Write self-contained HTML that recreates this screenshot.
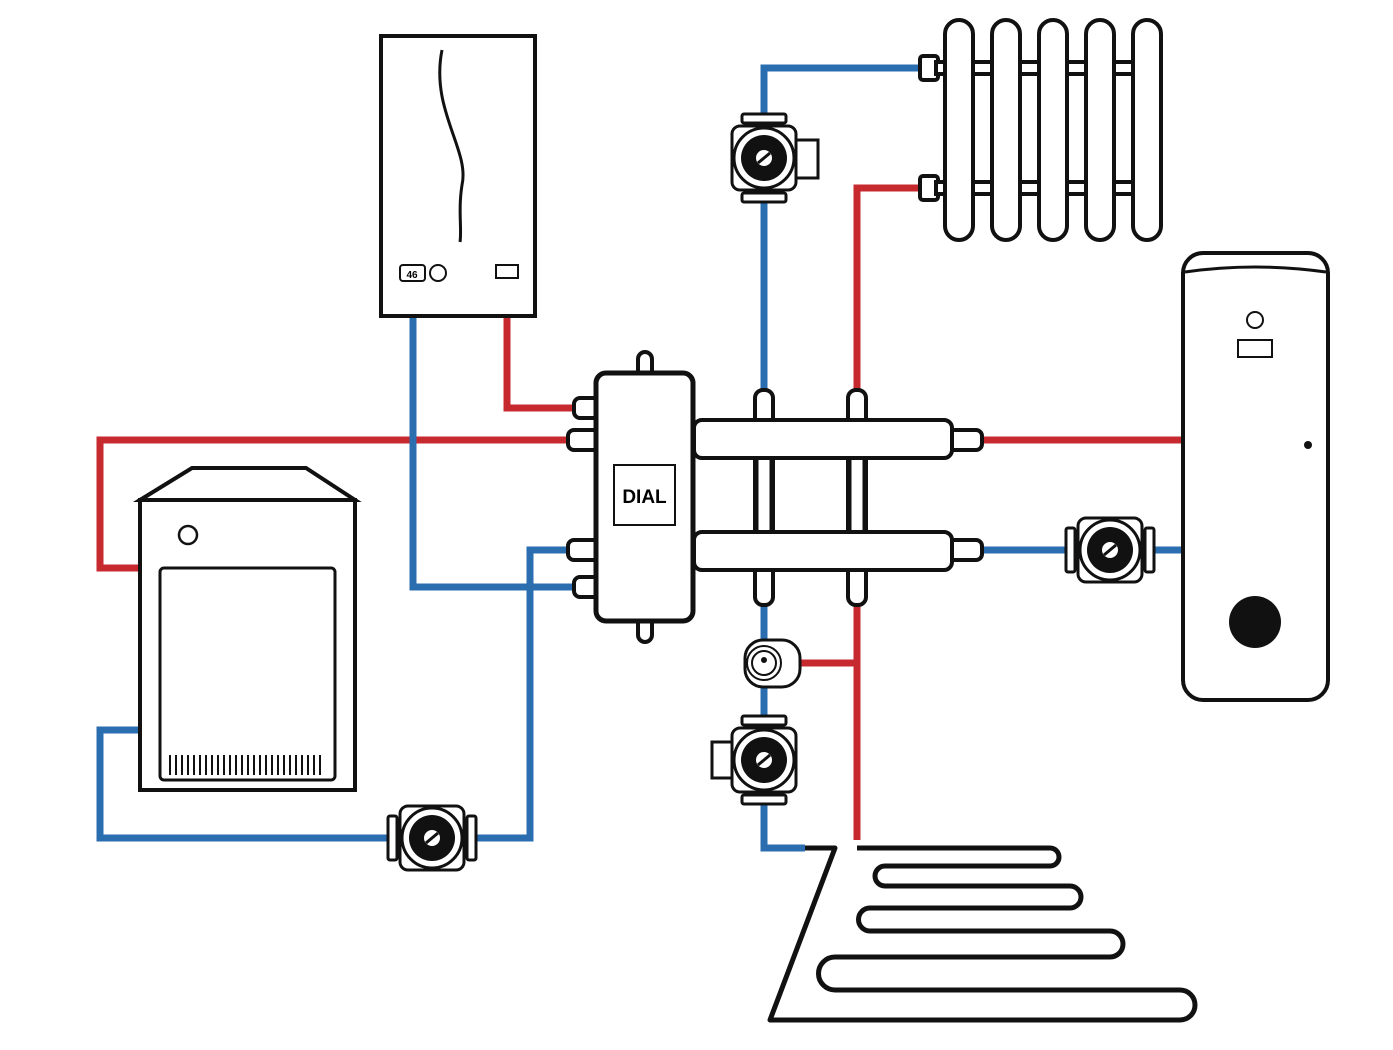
<!DOCTYPE html><html><head><style>body{margin:0;background:#fff}</style></head><body>
<svg width="1393" height="1045" viewBox="0 0 1393 1045" xmlns="http://www.w3.org/2000/svg" font-family="Liberation Sans, sans-serif">
<defs>
<g id="pv">
 <rect x="-22" y="-44" width="44" height="9" rx="2" fill="#fff" stroke="#111" stroke-width="3"/>
 <rect x="-22" y="35" width="44" height="9" rx="2" fill="#fff" stroke="#111" stroke-width="3"/>
 <rect x="-32" y="-32" width="64" height="64" rx="8" fill="#fff" stroke="#111" stroke-width="3"/>
 <circle r="30" fill="#fff" stroke="#111" stroke-width="3"/>
 <circle r="23" fill="#111"/>
 <circle r="8" fill="#fff"/><line x1="-6" y1="5" x2="6" y2="-5" stroke="#111" stroke-width="3"/>
</g>
<g id="ph">
 <rect x="-44" y="-22" width="9" height="44" rx="2" fill="#fff" stroke="#111" stroke-width="3"/>
 <rect x="35" y="-22" width="9" height="44" rx="2" fill="#fff" stroke="#111" stroke-width="3"/>
 <rect x="-32" y="-32" width="64" height="64" rx="8" fill="#fff" stroke="#111" stroke-width="3"/>
 <circle r="30" fill="#fff" stroke="#111" stroke-width="3"/>
 <circle r="23" fill="#111"/>
 <circle r="8" fill="#fff"/><line x1="-6" y1="5" x2="6" y2="-5" stroke="#111" stroke-width="3"/>
</g>
</defs>
<g fill="none" stroke-width="7">
<!-- red pipes -->
<g stroke="#c62a2f">
 <polyline points="507,316 507,408 585,408"/>
 <polyline points="140,568 100,568 100,440 585,440"/>
 <polyline points="857,390 857,188 920,188"/>
 <line x1="983" y1="440" x2="1183" y2="440"/>
 <polyline points="857,600 857,840"/>
 <line x1="800" y1="663" x2="857" y2="663"/>
</g>
<g stroke="#2a6eb0">
 <polyline points="413,316 413,587 585,587"/>
 <polyline points="140,730 100,730 100,838 530,838 530,550 585,550"/>
 <polyline points="764,390 764,68 920,68"/>
 <line x1="983" y1="550" x2="1183" y2="550"/>
 <polyline points="764,600 764,848 805,848"/>
</g>
</g>
<!-- wall boiler -->
<rect x="381" y="36" width="154" height="280" fill="#fff" stroke="#111" stroke-width="4"/>
<path d="M442 50 C430 110 470 150 462 185 C458 210 462 230 460 242" fill="none" stroke="#111" stroke-width="3"/>
<rect x="400" y="265" width="25" height="16" rx="3" fill="#fff" stroke="#111" stroke-width="2"/>
<text x="412" y="278" font-size="10" text-anchor="middle" font-weight="bold">46</text>
<circle cx="438" cy="273" r="8" fill="#fff" stroke="#111" stroke-width="2"/>
<rect x="496" y="265" width="22" height="13" fill="#fff" stroke="#111" stroke-width="2"/>
<!-- floor boiler -->
<polygon points="140,500 192,468 306,468 355,500" fill="#fff" stroke="#111" stroke-width="4"/>
<rect x="140" y="500" width="215" height="290" fill="#fff" stroke="#111" stroke-width="4"/>
<rect x="160" y="568" width="175" height="212" rx="4" fill="#fff" stroke="#111" stroke-width="3"/>
<circle cx="188" cy="535" r="9" fill="#fff" stroke="#111" stroke-width="2.5"/>
<path d="M170 755v20M176 755v20M182 755v20M188 755v20M194 755v20M200 755v20M206 755v20M212 755v20M218 755v20M224 755v20M230 755v20M236 755v20M242 755v20M248 755v20M254 755v20M260 755v20M266 755v20M272 755v20M278 755v20M284 755v20M290 755v20M296 755v20M302 755v20M308 755v20M314 755v20M320 755v20" stroke="#111" stroke-width="2"/>
<!-- separator -->
<g fill="#fff" stroke="#111" stroke-width="4">
 <rect x="638" y="352" width="14" height="30" rx="7"/>
 <rect x="638" y="610" width="14" height="32" rx="7"/>
 <rect x="574" y="398" width="30" height="20" rx="6"/>
 <rect x="568" y="430" width="36" height="20" rx="6"/>
 <rect x="568" y="540" width="36" height="20" rx="6"/>
 <rect x="574" y="577" width="30" height="20" rx="6"/>
 <rect x="755" y="390" width="18" height="215" rx="8"/>
 <rect x="848" y="390" width="18" height="215" rx="8"/>
 <rect x="940" y="430" width="42" height="20" rx="6"/>
 <rect x="940" y="540" width="42" height="20" rx="6"/>
 <rect x="694" y="420" width="258" height="38" rx="8"/>
 <rect x="694" y="532" width="258" height="38" rx="8"/>
 <rect x="596" y="373" width="97" height="248" rx="10" stroke-width="5"/>
</g>
<g stroke="#111" stroke-width="3"><line x1="757" y1="460" x2="757" y2="530"/><line x1="771" y1="460" x2="771" y2="530"/><line x1="850" y1="460" x2="850" y2="530"/><line x1="864" y1="460" x2="864" y2="530"/></g>
<rect x="614" y="465" width="61" height="60" fill="#fff" stroke="#111" stroke-width="2"/>
<text x="644.5" y="503" font-size="19" font-weight="bold" text-anchor="middle">DIAL</text>
<!-- radiator -->
<g fill="#fff" stroke="#111" stroke-width="4">
 <rect x="920" y="56" width="18" height="24" rx="3"/>
 <rect x="920" y="176" width="18" height="24" rx="3"/>
 <rect x="936" y="62" width="210" height="12"/>
 <rect x="936" y="182" width="210" height="12"/>
 <rect x="945" y="20" width="28" height="220" rx="14"/>
 <rect x="992" y="20" width="28" height="220" rx="14"/>
 <rect x="1039" y="20" width="28" height="220" rx="14"/>
 <rect x="1086" y="20" width="28" height="220" rx="14"/>
 <rect x="1133" y="20" width="28" height="220" rx="14"/>
</g>
<!-- tank -->
<rect x="1183" y="253" width="145" height="447" rx="20" fill="#fff" stroke="#111" stroke-width="4"/>
<path d="M1185 272 Q1255 262 1326 272" fill="none" stroke="#111" stroke-width="3"/>
<circle cx="1255" cy="320" r="8" fill="#fff" stroke="#111" stroke-width="2"/>
<rect x="1238" y="340" width="34" height="17" fill="#fff" stroke="#111" stroke-width="2"/>
<circle cx="1308" cy="445" r="4" fill="#111"/>
<circle cx="1255" cy="622" r="26" fill="#111"/>
<!-- pumps -->
<use href="#pv" x="764" y="158"/>
<rect x="796" y="140" width="22" height="38" fill="#fff" stroke="#111" stroke-width="3"/>
<use href="#ph" x="1110" y="550"/>
<use href="#ph" x="432" y="838"/>
<use href="#pv" x="764" y="760"/>
<rect x="712" y="742" width="20" height="36" fill="#fff" stroke="#111" stroke-width="3"/>
<!-- mixing valve -->
<rect x="745" y="640" width="55" height="47" rx="18" fill="#fff" stroke="#111" stroke-width="3"/>
<circle cx="764" cy="663" r="17" fill="#fff" stroke="#111" stroke-width="2"/>
<circle cx="764" cy="663" r="12" fill="#fff" stroke="#111" stroke-width="2"/>
<circle cx="764" cy="660" r="3" fill="#111"/>
<!-- floor coil -->
<path d="M805 848 L835 848 L770 1020 L1180 1020 A15 15 0 0 0 1180 990 L835 990 A16 16 0 0 1 835 957 L1110 957 A13 13 0 0 0 1110 931 L870 931 A11 11 0 0 1 870 908 L1070 908 A11 11 0 0 0 1070 886 L885 886 A10 10 0 0 1 885 866 L1050 866 A9 9 0 0 0 1050 848 L857 848" fill="none" stroke="#111" stroke-width="5" stroke-linejoin="round"/>
</svg>
</body></html>
